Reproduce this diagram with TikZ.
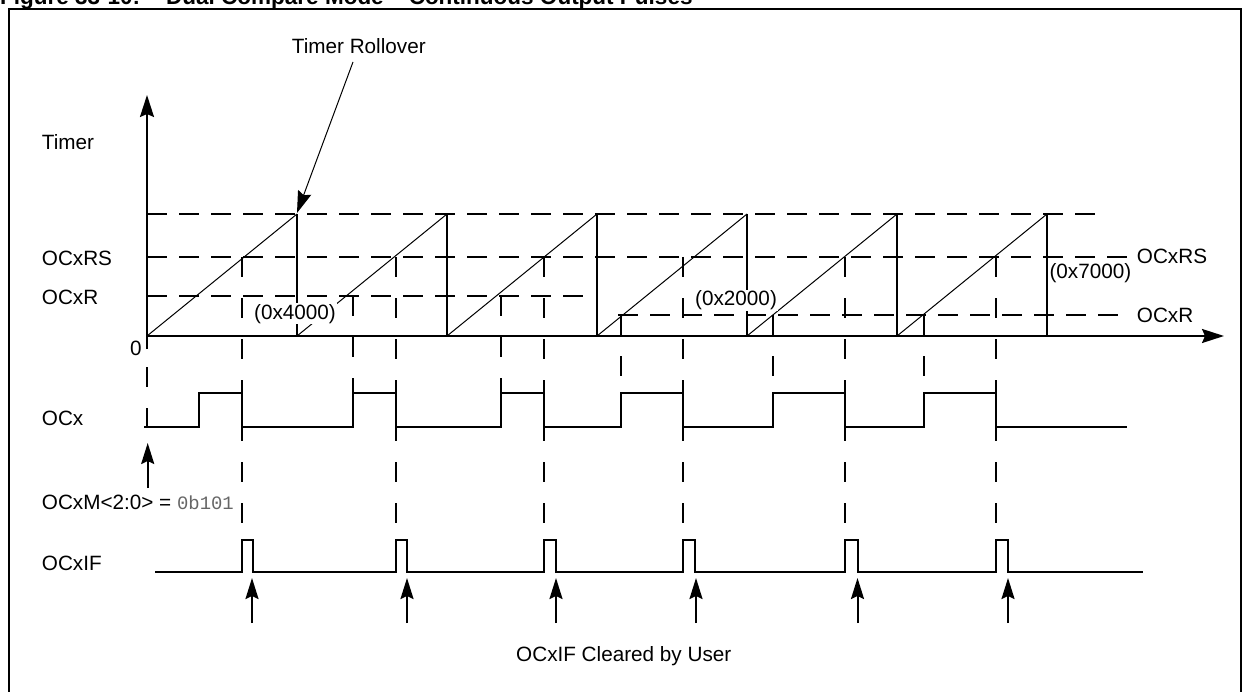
\documentclass[tikz,border=0pt]{standalone}
\usepackage{fontspec}
\setmainfont{Liberation Sans}
\newfontfamily\monofont{Liberation Mono}
\usetikzlibrary{arrows.meta}
\begin{document}
\begin{tikzpicture}[x=1pt,y=-1pt,
  lbl/.style={inner sep=0pt, anchor=base west, font=\fontsize{20.7}{24}\selectfont},
  val/.style={inner sep=1pt, fill=white, anchor=base west, font=\fontsize{20.7}{24}\selectfont},
  axisline/.style={line width=2pt},
  ramp/.style={line width=1pt},
  drop/.style={line width=2pt},
  hdash/.style={line width=1.8pt, dash pattern=on 20pt off 12pt},
  vdash/.style={line width=1.8pt, dash pattern=on 20pt off 21pt},
  sig/.style={line width=2pt},
  arr/.style={-{Stealth[length=22pt,width=14pt,inset=3pt]}},
  sarr/.style={-{Stealth[length=21pt,width=13pt,inset=3pt]}}]
\useasboundingbox (0,0) rectangle (1246,692);
% frame and cut-off caption
\draw[line width=2pt] (8.5,9.5) rectangle (1240.5,720);
\node[inner sep=0pt, anchor=base west, font=\bfseries\fontsize{22.5}{26}\selectfont] (title) at (0,5)
  {Figure 33-10:\hspace{26pt}Dual Compare Mode – Continuous Output Pulses};
% horizontal compare levels
\draw[hdash] (147,214) -- (1106,214);
\draw[hdash] (147,257) -- (1130,257);
\draw[hdash] (147,296) -- (588,296);
\draw[hdash] (618,315) -- (1130,315);
% timer ramps and rollovers
\foreach \s in {147,297,447,597,747,897} \draw[ramp] (\s,336) -- ++(150,-122);
\foreach \s in {297,447,597,747,897,1047} \draw[drop] (\s,214) -- (\s,336);
% axes
\coordinate (yorig) at (147,349);
\coordinate (ytip) at (147,95);
\coordinate (xorig) at (147,336);
\coordinate (xtip) at (1224,336);
\draw[axisline, arr] (yorig) -- (ytip);
\draw[axisline, arr] (xorig) -- (xtip);
% vertical dashed event lines
\foreach \x in {242,396,544,683,845,996} \draw[vdash] (\x,257) -- (\x,540);
\foreach \x in {353,501} \draw[vdash] (\x,296) -- (\x,393);
\foreach \x in {621,773,924} \draw[vdash] (\x,315) -- (\x,393);
\draw[vdash] (147,367) -- (147,427);
% OCx
\draw[sig] (144,427) -- (199,427) -- (199,393) -- (242,393) -- (242,427) -- (353,427) -- (353,393)
  -- (396,393) -- (396,427) -- (501,427) -- (501,393) -- (544,393) -- (544,427) -- (621,427)
  -- (621,393) -- (683,393) -- (683,427) -- (773,427) -- (773,393) -- (845,393) -- (845,427)
  -- (924,427) -- (924,393) -- (996,393) -- (996,427) -- (1127,427);
% OCxIF
\draw[sig] (155,572) -- (242,572) -- (242,540) -- (252.5,540) -- (252.5,572) -- (396,572)
  -- (396,540) -- (407,540) -- (407,572) -- (544,572) -- (544,540) -- (555.5,540) -- (555.5,572)
  -- (683,572) -- (683,540) -- (695,540) -- (695,572) -- (845,572) -- (845,540) -- (857.5,540)
  -- (857.5,572) -- (996,572) -- (996,540) -- (1008,540) -- (1008,572) -- (1143,572);
% clear arrows
\foreach \x [count=\i] in {252,407,556,696,857.5,1008} {
  \coordinate (cb\i) at (\x,623);
  \coordinate (ct\i) at (\x,578);
  \draw[sig, sarr] (cb\i) -- (ct\i);
}
% mode arrow
\coordinate (mb) at (147.7,488);
\coordinate (mt) at (147.7,443);
\draw[sig, sarr] (mb) -- (mt);
% rollover arrow
\node[lbl] (troll) at (291.7,53.3) {Timer Rollover};
\coordinate (rollstart) at (353,62);
\coordinate (rollpt) at (297,213);
\draw[line width=1pt, arr] (rollstart) -- (rollpt);
% value labels
\node[val] (v4000) at (253,319) {(0x4000)};
\node[val] (v2000) at (694,305.7) {(0x2000)};
\node[val] (v7000) at (1048.3,279) {(0x7000)};
% left labels
\node[lbl] (ltimer) at (41.7,149.3) {Timer};
\node[lbl] (lrs) at (41.7,265.7) {OCxRS};
\node[lbl] (lr) at (41.7,305) {OCxR};
\node[lbl] (lzero) at (130,355) {0};
\node[lbl] (locx) at (41.7,425.7) {OCx};
\node[lbl] (lmode) at (41.7,509) {OCxM<2:0> = {\monofont\fontsize{18.9}{22}\selectfont\color{black!60}0b101}};
\node[lbl] (lif) at (41.7,570) {OCxIF};
% right labels
\node[lbl] (rrs) at (1136.7,263.3) {OCxRS};
\node[lbl] (rr) at (1136.7,322.7) {OCxR};
% bottom label
\node[lbl] (lclr) at (516,661.5) {OCxIF Cleared by User};
\end{tikzpicture}
\end{document}
